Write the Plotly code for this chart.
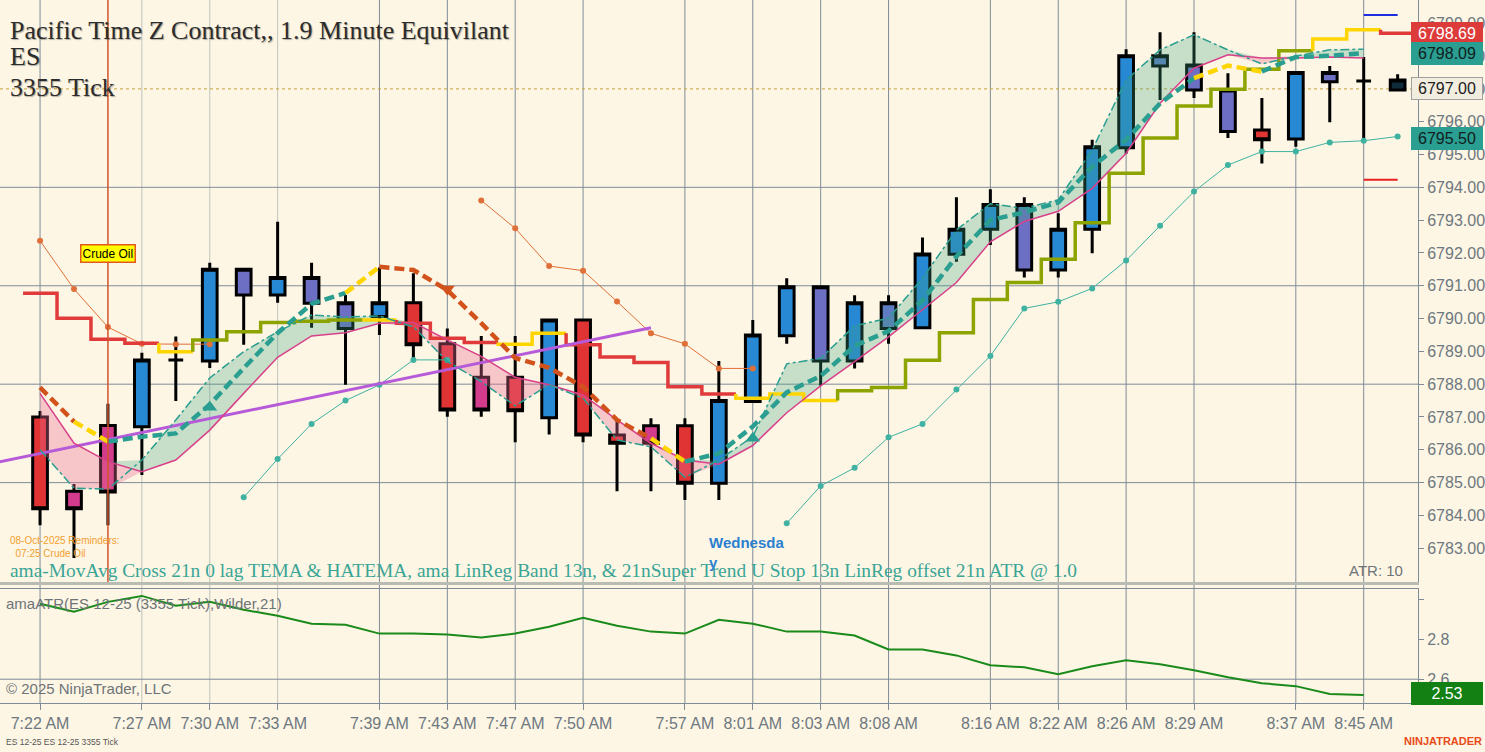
import numpy as np
import plotly.graph_objects as go

SANS = "Liberation Sans, Arial, sans-serif"
SERIF = "Liberation Serif, Times New Roman, serif"
BG = "#fdf6e4"
GRID = "#7f8c98"
GRID_LIGHT = "#bfc3bd"

# ---- price bars (one per 3355 ticks) ----
bar_idx = list(range(41))
bar_color = list("RMMBDBPBPP" "BRRMRBRRMR" "BBBPBSBBBP" "BBBSPPRBPD" "K")
opens = [6787.00, 6784.74, 6786.74, 6786.70, 6788.74, 6788.71, 6790.72, 6790.72, 6790.47, 6789.70,
         6790.06, 6790.48, 6789.23, 6788.21, 6788.21, 6786.98, 6789.96, 6786.45, 6786.73, 6786.73,
         6784.98, 6787.47, 6789.48, 6788.71, 6788.71, 6789.70, 6789.72, 6791.96, 6792.72, 6791.48,
         6791.48, 6792.72, 6795.21, 6797.70, 6796.97, 6795.70, 6795.75, 6795.47, 6797.22, 6797.24,
         6796.97]
closes = [6784.20, 6784.20, 6784.71, 6788.74, 6788.74, 6791.50, 6791.50, 6791.25, 6791.25, 6790.48,
          6790.48, 6789.20, 6787.21, 6787.21, 6787.19, 6789.96, 6786.45, 6786.20, 6786.20, 6784.98,
          6787.50, 6789.50, 6790.97, 6790.97, 6790.48, 6790.48, 6791.97, 6792.72, 6793.48, 6793.48,
          6792.72, 6795.24, 6798.01, 6798.01, 6797.73, 6796.97, 6795.45, 6797.50, 6797.50, 6797.24,
          6797.27]
highs = [6787.18, 6784.96, 6787.40, 6788.96, 6789.45, 6791.70, 6791.50, 6792.95, 6791.70, 6790.72,
         6791.56, 6791.38, 6789.70, 6789.47, 6789.47, 6789.96, 6789.96, 6786.93, 6786.96, 6786.96,
         6788.71, 6789.96, 6791.23, 6790.97, 6790.71, 6790.71, 6792.47, 6793.70, 6793.94, 6793.70,
         6793.21, 6795.45, 6798.21, 6798.73, 6798.73, 6797.48, 6796.72, 6797.50, 6797.70, 6797.97,
         6797.45]
lows = [6783.70, 6782.70, 6783.70, 6785.23, 6787.49, 6788.49, 6789.20, 6790.48, 6789.72, 6787.98,
        6789.50, 6788.74, 6787.01, 6787.01, 6786.23, 6786.47, 6786.23, 6784.74, 6784.74, 6784.47,
        6784.47, 6787.47, 6789.23, 6787.95, 6788.48, 6789.23, 6789.72, 6791.73, 6792.24, 6791.25,
        6791.25, 6791.99, 6795.02, 6796.66, 6796.72, 6795.50, 6794.73, 6795.24, 6795.98, 6795.45,
        6796.97]
candle_fill = {"R": "#e03434", "M": "#d33c8c", "B": "#2788d4", "P": "#6c6fc4",
               "S": "#5d7cc2", "D": "#2788d4", "K": "#0e2c3a"}

# ---- super trend stop (step line) ----
stop_vals = [6790.77, 6790.01, 6789.37, 6789.25, 6788.99, 6789.35, 6789.60, 6789.88, 6789.92, 6789.96,
             6789.96, 6789.86, 6789.40, 6789.27, 6789.22, 6789.55, 6789.20, 6788.83, 6788.66, 6787.92,
             6787.70, 6787.57, 6787.70, 6787.50, 6787.80, 6787.90, 6788.73, 6789.57, 6790.58, 6791.10,
             6791.81, 6792.92, 6794.43, 6795.50, 6796.48, 6796.99, 6797.60, 6798.16, 6798.52, 6798.80,
             6798.70]
stop_state = list("RRRRYOOOOO" "YRRRYYRRRR" "RYYYOOOOOO" "OOOOOOOOYY" "R")
stop_rgb = {"R": "#e03a3a", "Y": "#ffd500", "O": "#8da300"}

# ---- TEMA cross line (thick dashed), colour of segment ending at each bar ----
ma_vals = [6787.90, 6786.86, 6786.25, 6786.40, 6786.50, 6787.38, 6788.49, 6789.56, 6790.45, 6790.78,
           6791.58, 6791.48, 6790.87, 6789.86, 6788.80, 6788.50, 6787.92, 6786.91, 6786.35, 6785.64,
           6785.89, 6786.71, 6787.75, 6788.25, 6789.17, 6789.62, 6790.55, 6791.89, 6793.00, 6793.24,
           6793.54, 6794.63, 6795.45, 6796.56, 6797.33, 6797.71, 6797.53, 6797.97, 6798.01, 6798.09]
ma_state = list("-OYTTTTTTT" "YOOOOOOOOY" "TTTTTTTTTT" "TTTTTYYTTT")
ma_rgb = {"O": "#d2521c", "Y": "#ffd500", "T": "#2a9e90"}
cross_up_x = [5, 21]
cross_up_y = [6787.30, 6786.35]
cross_dn_x = [12]
cross_dn_y = [6790.90]

# ---- linreg band: HATEMA (dash-dot) and lower line (magenta) ----
hatema = [6786.00, 6784.83, 6784.80, 6785.69, 6786.91, 6788.19, 6788.99, 6789.60, 6790.11, 6790.05,
          6790.08, 6789.75, 6788.69, 6788.08, 6787.34, 6787.98, 6787.57, 6786.30, 6786.09, 6785.16,
          6785.69, 6786.40, 6788.62, 6788.79, 6789.78, 6790.01, 6791.23, 6792.70, 6793.50, 6793.36,
          6793.62, 6795.14, 6797.27, 6798.19, 6798.65, 6798.19, 6797.76, 6798.00, 6798.19, 6798.21]
band_low = [6787.72, 6786.20, 6785.64, 6785.33, 6785.69, 6786.60, 6787.72, 6788.82, 6789.47, 6789.57,
            6789.86, 6789.88, 6789.35, 6788.85, 6788.21, 6787.98, 6787.67, 6786.91, 6786.20, 6785.69,
            6785.56, 6786.13, 6787.13, 6787.95, 6788.69, 6789.44, 6790.27, 6791.10, 6792.34, 6792.96,
            6793.27, 6793.97, 6795.04, 6796.56, 6797.63, 6798.04, 6797.94, 6797.94, 6797.97, 6797.94]

# ---- regression line ----
linreg_x = [-1.2, 18]
linreg_y = [6785.63, 6789.72]

# ---- ATR offset bands (dotted markers) ----
upper_a_x = [0, 1, 2, 3, 4, 5]
upper_a_y = [6792.37, 6790.90, 6789.74, 6789.23, 6789.22, 6789.22]
upper_b_x = [13, 14, 15, 16, 17, 18, 19, 20, 21]
upper_b_y = [6793.60, 6792.75, 6791.60, 6791.46, 6790.52, 6789.55, 6789.23, 6788.48, 6788.48]
lower_a_x = [6, 7, 8, 9, 10, 11, 12]
lower_a_y = [6784.55, 6785.72, 6786.79, 6787.50, 6787.98, 6788.74, 6788.74]
lower_b_x = list(range(22, 41))
lower_b_y = [6783.76, 6784.90, 6785.45, 6786.38, 6786.79, 6787.84, 6788.86, 6790.31, 6790.51, 6790.92,
             6791.77, 6792.83, 6793.87, 6794.68, 6795.09, 6795.09, 6795.37, 6795.42, 6795.55]

proj_x = [39, 40]
proj_high = 6799.25
proj_low = 6794.23
last_price = 6797.00

# ---- ATR panel ----
atr_vals = [2.98, 2.94, 2.99, 3.02, 2.97, 2.99, 2.95, 2.92, 2.88, 2.875,
            2.83, 2.83, 2.825, 2.81, 2.83, 2.865, 2.91, 2.87, 2.84, 2.83,
            2.90, 2.88, 2.84, 2.84, 2.82, 2.75, 2.75, 2.72, 2.67, 2.66,
            2.625, 2.665, 2.695, 2.675, 2.645, 2.61, 2.58, 2.565, 2.525, 2.52]

# ---- axes ----
time_pos = [0, 3, 5, 7, 10, 12, 14, 16, 19, 21, 23, 25, 28, 30, 32, 34, 37, 39]
time_txt = ["7:22 AM", "7:27 AM", "7:30 AM", "7:33 AM", "7:39 AM", "7:43 AM", "7:47 AM", "7:50 AM",
            "7:57 AM", "8:01 AM", "8:03 AM", "8:08 AM", "8:16 AM", "8:22 AM", "8:26 AM", "8:29 AM",
            "8:37 AM", "8:45 AM"]
light_grid_pos = [3, 5, 7]
price_ticks = list(range(6783, 6800))
price_grid = [6785, 6788, 6791, 6794]
atr_ticks = [2.6, 2.8, 3.0]
atr_grid = [2.6]
reminder_bar = 2


def runs(states, first=0):
    out, start = [], first
    for i in range(first + 1, len(states) + 1):
        if i == len(states) or states[i] != states[start]:
            out.append((start, i - 1, states[start]))
            start = i
    return out


fig = go.Figure()

# candles, grouped by paint colour
for key, fill in candle_fill.items():
    idx = [i for i in bar_idx if bar_color[i] == key]
    if not idx:
        continue
    style = dict(fillcolor=fill, line=dict(color="black", width=3))
    fig.add_trace(go.Candlestick(
        x=idx, open=[opens[i] for i in idx], high=[highs[i] for i in idx],
        low=[lows[i] for i in idx], close=[closes[i] for i in idx],
        increasing=style, decreasing=style, whiskerwidth=0, hoverinfo="skip",
        showlegend=False, xaxis="x", yaxis="y"))

# band fill: green where HATEMA above lower line, pink where below
band_x = bar_idx[:len(hatema)]
hi_edge = np.maximum(hatema, band_low)
lo_edge = np.minimum(hatema, band_low)
for edge, col in [(hi_edge, "rgba(60,160,130,0.28)"), (lo_edge, "rgba(232,110,150,0.35)")]:
    fig.add_trace(go.Scatter(x=band_x, y=band_low, mode="lines", line=dict(width=0),
                             hoverinfo="skip", showlegend=False))
    fig.add_trace(go.Scatter(x=band_x, y=edge, mode="lines", line=dict(width=0), fill="tonexty",
                             fillcolor=col, hoverinfo="skip", showlegend=False))

# ATR offset bands
for xs, ys, col in [(upper_a_x, upper_a_y, "#e0703a"), (upper_b_x, upper_b_y, "#e0703a"),
                    (lower_a_x, lower_a_y, "#3fb2a2"), (lower_b_x, lower_b_y, "#3fb2a2")]:
    fig.add_trace(go.Scatter(x=xs, y=ys, mode="lines+markers", line=dict(color=col, width=1),
                             marker=dict(size=6, color=col), hoverinfo="skip", showlegend=False))

# super trend step line
for s, e, c in runs(stop_state):
    xs = [k - 0.5 for k in range(s, e + 1)] + [e + 0.5]
    ys = stop_vals[s:e + 1] + [stop_vals[e]]
    if s > 0:
        xs = [s - 0.5] + xs
        ys = [stop_vals[s - 1]] + ys
    fig.add_trace(go.Scatter(x=xs, y=ys, mode="lines", line=dict(color=stop_rgb[c], width=3.5, shape="hv"),
                             hoverinfo="skip", showlegend=False))

# regression line
fig.add_trace(go.Scatter(x=linreg_x, y=linreg_y, mode="lines", line=dict(color="#b65ad9", width=3),
                         hoverinfo="skip", showlegend=False))

# band lines
fig.add_trace(go.Scatter(x=band_x, y=band_low, mode="lines", line=dict(color="#d8408a", width=1.5),
                         hoverinfo="skip", showlegend=False))
fig.add_trace(go.Scatter(x=band_x, y=hatema, mode="lines",
                         line=dict(color="#2a9e90", width=1.5, dash="dashdot"),
                         hoverinfo="skip", showlegend=False))

# TEMA cross line
for s, e, c in runs(ma_state, first=1):
    fig.add_trace(go.Scatter(x=list(range(s - 1, e + 1)), y=ma_vals[s - 1:e + 1], mode="lines",
                             line=dict(color=ma_rgb[c], width=4.5, dash="10px,5px"),
                             hoverinfo="skip", showlegend=False))
fig.add_trace(go.Scatter(x=cross_up_x, y=cross_up_y, mode="markers",
                         marker=dict(symbol="triangle-up", size=13, color="#2a9e90"),
                         hoverinfo="skip", showlegend=False))
fig.add_trace(go.Scatter(x=cross_dn_x, y=cross_dn_y, mode="markers",
                         marker=dict(symbol="triangle-down", size=13, color="#d2521c"),
                         hoverinfo="skip", showlegend=False))

# projected high / low ticks
fig.add_trace(go.Scatter(x=proj_x, y=[proj_high] * 2, mode="lines", line=dict(color="#1a2ee0", width=2),
                         hoverinfo="skip", showlegend=False))
fig.add_trace(go.Scatter(x=proj_x, y=[proj_low] * 2, mode="lines", line=dict(color="#e82020", width=2),
                         hoverinfo="skip", showlegend=False))

# ATR
fig.add_trace(go.Scatter(x=bar_idx[:len(atr_vals)], y=atr_vals, mode="lines",
                         line=dict(color="#1a8a1a", width=2), hoverinfo="skip", showlegend=False,
                         xaxis="x2", yaxis="y2"))

shapes = []
for p in time_pos:
    shapes.append(dict(type="line", xref="x", yref="paper", x0=p, x1=p, y0=0, y1=1, layer="below",
                       line=dict(color=GRID_LIGHT if p in light_grid_pos else GRID, width=1)))
for g in price_grid:
    shapes.append(dict(type="line", xref="paper", yref="y", x0=0, x1=1, y0=g, y1=g, layer="below",
                       line=dict(color=GRID, width=1)))
for g in atr_grid:
    shapes.append(dict(type="line", xref="paper", yref="y2", x0=0, x1=1, y0=g, y1=g, layer="below",
                       line=dict(color=GRID, width=1)))
shapes.append(dict(type="line", xref="paper", yref="y", x0=0, x1=1, y0=last_price, y1=last_price,
                   layer="below", line=dict(color="#c9a13c", width=1, dash="dot")))
shapes.append(dict(type="line", xref="x", yref="y domain", x0=reminder_bar, x1=reminder_bar, y0=0, y1=1,
                   layer="above", line=dict(color="#d0542a", width=1.5)))


def tag(text, yv, yref, bg, fg, border=None):
    return dict(x=1, xref="paper", xanchor="left", xshift=-7, y=yv, yref=yref, yanchor="middle",
                text=text, showarrow=False, bgcolor=bg, bordercolor=border or bg, borderwidth=1,
                borderpad=1, width=68, height=19, font=dict(family=SANS, size=16, color=fg))


def label(text, x, y, size, color, family=SANS, xanchor="left", shadow=None, weight="normal"):
    return dict(x=x, y=y, xref="paper", yref="paper", xanchor=xanchor, yanchor="middle", text=text,
                showarrow=False, align="left",
                font=dict(family=family, size=size, color=color, shadow=shadow or "none", weight=weight))


title_shadow = "1px 1px 1px rgba(0,0,0,0.3)"
annotations = [
    label("Pacific Time Z Contract,, 1.9 Minute Equivilant", 0.0055, 0.956, 26, "#2c2c2c", SERIF,
          shadow=title_shadow),
    label("ES", 0.0055, 0.919, 26, "#2c2c2c", SERIF, shadow=title_shadow),
    label("3355 Tick", 0.0055, 0.876, 26, "#2c2c2c", SERIF, shadow=title_shadow),
    label("ama-MovAvg Cross 21n 0 lag TEMA &amp; HATEMA, ama LinReg Band 13n, &amp; 21nSuper Trend U Stop "
          "13n LinReg offset 21n ATR @ 1.0", 0.0055, 0.189, 19.4, "#3aa596", SERIF),
    label("ATR: 10", 0.991, 0.188, 15, "#6e7478", xanchor="right"),
    label("amaATR(ES 12-25 (3355 Tick),Wilder,21)", 0.003, 0.1422, 15, "#6e7478"),
    label("© 2025 NinjaTrader, LLC", 0.003, 0.0213, 15, "#6e7478"),
    label("ES 12-25 ES 12-25 3355 Tick", 0.003, -0.0555, 8.5, "#555555"),
    label("NINJATRADER", 1.0465, -0.054, 11, "#e84a1a", xanchor="right", weight="bold"),
    label("08-Oct-2025 Reminders:<br>  07:25 Crude Oil", 0.0055, 0.2225, 10, "#f2a030"),
    label("Wednesda<br>y", 0.4985, 0.2135, 15, "#2a80d0", weight="bold"),
    dict(x=reminder_bar, y=6791.97, xref="x", yref="y", text="Crude Oil", showarrow=False,
         bgcolor="#ffff00", bordercolor="#e05a20", borderwidth=1.5, borderpad=1,
         font=dict(family=SANS, size=12, color="black")),
    tag("6798.69", 6798.69, "y", "#dd3a3a", "white"),
    tag("6798.09", 6798.09, "y", "#2a9e90", "#102020"),
    tag("6797.00", last_price, "y", "#f3ede0", "#202020", border="#a0a0a0"),
    tag("6795.50", lower_b_y[-1] - 0.05, "y", "#2a9e90", "#102020"),
    tag("2.53", atr_vals[-1] + 0.01, "y2", "#128012", "white"),
]

axis_font = dict(family=SANS, size=16, color="#6e7880")
fig.update_layout(
    width=1485, height=752,
    margin=dict(l=0, r=67, t=0, b=49),
    paper_bgcolor=BG, plot_bgcolor=BG,
    showlegend=False, boxgap=0.38, hovermode=False,
    xaxis=dict(domain=[0, 1], range=[-1.18, 40.6], anchor="y", showticklabels=False, showgrid=False,
               zeroline=False, showline=True, linecolor="#b9bcb3", linewidth=3,
               rangeslider=dict(visible=False), fixedrange=True),
    xaxis2=dict(domain=[0, 1], matches="x", anchor="y2", tickvals=time_pos, ticktext=time_txt,
                ticks="outside", ticklen=6, tickcolor=GRID, showgrid=False, zeroline=False,
                showline=True, linecolor=GRID, mirror=True, tickfont=axis_font,
                rangeslider=dict(visible=False)),
    yaxis=dict(domain=[0.1721, 1], range=[6781.97, 6799.71], anchor="x", side="right",
               tickvals=price_ticks, ticktext=[f"{v:.2f}" for v in price_ticks],
               ticks="outside", ticklen=5, tickcolor=GRID, showgrid=False, zeroline=False,
               showline=True, linecolor=GRID, tickfont=axis_font),
    yaxis2=dict(domain=[0, 0.1622], range=[2.48, 3.055], anchor="x2", side="right",
                tickvals=atr_ticks, ticktext=["2.6", "2.8", ""], ticks="outside", ticklen=5,
                tickcolor=GRID, showgrid=False, zeroline=False, showline=True, linecolor=GRID,
                tickfont=axis_font),
    shapes=shapes,
    annotations=annotations,
)

# the page body has a default margin; drop it so the chart sits at the window origin
fig.write_html("out.html", config={"displayModeBar": False},
               post_script="document.body.style.margin='0';document.body.style.overflow='hidden';")
